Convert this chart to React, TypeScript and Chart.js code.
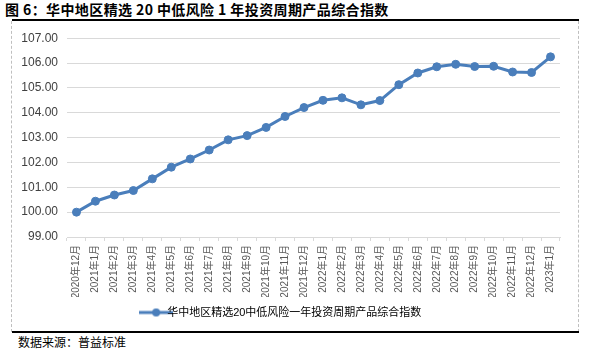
import React, { useEffect, useRef } from "react";
import { Chart, registerables } from "chart.js";

Chart.register(...registerables);

const categories = [
  "2020年12月", "2021年1月", "2021年2月", "2021年3月", "2021年4月", "2021年5月",
  "2021年6月", "2021年7月", "2021年8月", "2021年9月", "2021年10月", "2021年11月",
  "2021年12月", "2022年1月", "2022年2月", "2022年3月", "2022年4月", "2022年5月",
  "2022年6月", "2022年7月", "2022年8月", "2022年9月", "2022年10月", "2022年11月",
  "2022年12月", "2023年1月",
];

const indexValues = [
  100.0, 100.44, 100.69, 100.87, 101.34, 101.81,
  102.14, 102.5, 102.91, 103.08, 103.41, 103.85,
  104.21, 104.5, 104.6, 104.32, 104.49, 105.13,
  105.6, 105.85, 105.95, 105.86, 105.87, 105.64,
  105.62, 106.25,
];

const seriesName = "华中地区精选20中低风险一年投资周期产品综合指数";
const titleText = "图 6：华中地区精选 20 中低风险 1 年投资周期产品综合指数";
const sourceText = "数据来源：普益标准";

const yMin = 99;
const yMax = 107;
const yStep = 1;

const LINE_COLOR = "#4a7ebb";
const FONT = "'Liberation Sans', 'Noto Sans CJK SC', sans-serif";

function makeLegendIcon(): HTMLCanvasElement {
  const c = document.createElement("canvas");
  c.width = 34;
  c.height = 10;
  const ctx = c.getContext("2d")!;
  ctx.strokeStyle = LINE_COLOR;
  ctx.lineWidth = 3;
  ctx.beginPath();
  ctx.moveTo(0, 5);
  ctx.lineTo(34, 5);
  ctx.stroke();
  ctx.fillStyle = LINE_COLOR;
  ctx.beginPath();
  ctx.arc(17, 5, 4, 0, Math.PI * 2);
  ctx.fill();
  return c;
}

function LineChart() {
  const ref = useRef<HTMLCanvasElement | null>(null);
  useEffect(() => {
    if (!ref.current) return;
    const icon = makeLegendIcon();
    const chart = new Chart(ref.current, {
      type: "line",
      data: {
        labels: categories,
        datasets: [
          {
            label: seriesName,
            data: indexValues,
            borderColor: LINE_COLOR,
            backgroundColor: LINE_COLOR,
            borderWidth: 3,
            pointRadius: 4,
            pointStyle: "circle",
            pointBackgroundColor: LINE_COLOR,
            pointBorderColor: LINE_COLOR,
            pointBorderWidth: 1,
            tension: 0,
          } as any,
        ],
      },
      options: {
        responsive: false,
        animation: false,
        devicePixelRatio: 1,
        layout: { padding: { top: 9, right: 19, bottom: 2, left: 0 } },
        plugins: {
          title: { display: false },
          tooltip: { enabled: false },
          legend: {
            position: "bottom",
            labels: {
              usePointStyle: true,
              color: "#595959",
              font: { family: FONT, size: 11 },
              padding: 10,
              generateLabels: () => [
                {
                  text: seriesName,
                  fillStyle: LINE_COLOR,
                  strokeStyle: LINE_COLOR,
                  lineWidth: 0,
                  pointStyle: icon as any,
                  hidden: false,
                  datasetIndex: 0,
                } as any,
              ],
            },
          },
        },
        scales: {
          x: {
            type: "category",
            offset: true,
            afterFit: (s: any) => {
              s.height = 60;
            },
            grid: {
              offset: true,
              drawOnChartArea: false,
              drawTicks: true,
              tickLength: 4,
              color: "#d9d9d9",
            },
            border: { display: true, color: "#d9d9d9", width: 1 },
            ticks: {
              autoSkip: false,
              maxRotation: 90,
              minRotation: 90,
              padding: 4,
              color: "#595959",
              font: { family: FONT, size: 10 },
            },
          },
          y: {
            min: yMin,
            max: yMax,
            afterFit: (s: any) => {
              s.width = 55;
            },
            grid: { color: "#d9d9d9", drawTicks: false, lineWidth: 1 },
            border: { display: false },
            ticks: {
              stepSize: yStep,
              padding: 9,
              color: "#404040",
              font: { family: FONT, size: 12 },
              callback: (v: any) => Number(v).toFixed(2),
            },
          },
        },
      },
    });
    return () => chart.destroy();
  }, []);
  return <canvas ref={ref} width={567} height={308} style={{ display: "block" }} />;
}

export default function App() {
  return (
    <div
      style={{
        position: "fixed",
        left: 0,
        top: 0,
        width: 589,
        height: 352,
        background: "#fff",
        overflow: "hidden",
        fontFamily: FONT,
      }}
    >
      <div
        style={{
          position: "absolute",
          left: 5,
          top: 1,
          fontSize: 14,
          letterSpacing: 0.4,
          fontWeight: "bold",
          color: "#000",
          fontFamily: "'Noto Sans CJK SC', sans-serif",
          whiteSpace: "pre",
          lineHeight: "17px",
        }}
      >
        {titleText}
      </div>
      <div style={{ position: "absolute", left: 12, top: 19, width: 567, height: 2, background: "#000" }} />
      <div
        style={{
          position: "absolute",
          left: 11,
          top: 21,
          width: 0,
          height: 311,
          borderLeft: "1px dashed #bfbfbf",
        }}
      />
      <div
        style={{
          position: "absolute",
          left: 578,
          top: 21,
          width: 0,
          height: 311,
          borderLeft: "1px dashed #bfbfbf",
        }}
      />
      <div style={{ position: "absolute", left: 12, top: 22 }}>
        <LineChart />
      </div>
      <div style={{ position: "absolute", left: 12, top: 331, width: 567, height: 2, background: "#000" }} />
      <div
        style={{
          position: "absolute",
          left: 18,
          top: 334,
          fontSize: 12,
          color: "#000",
          fontFamily: "'Noto Sans CJK SC', sans-serif",
          whiteSpace: "pre",
          lineHeight: "16px",
        }}
      >
        {sourceText}
      </div>
    </div>
  );
}
